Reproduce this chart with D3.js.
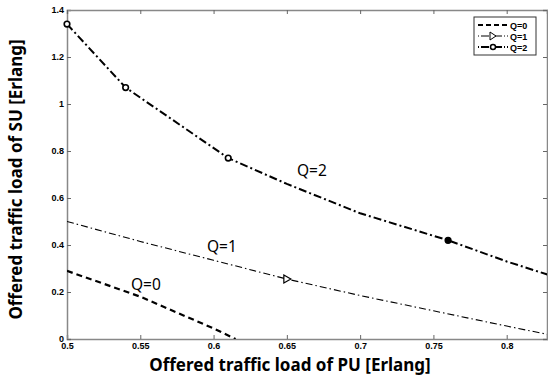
<!DOCTYPE html>
<html>
<head>
<meta charset="utf-8">
<script src="https://cdn.jsdelivr.net/npm/d3@7"></script>
<style>
  body { margin: 0; background: #fff; }
  .tick text { font-family: "Liberation Sans", Arial, sans-serif; font-weight: bold; font-size: 9px; }
  .title { font-family: "Noto Sans", "DejaVu Sans", sans-serif; font-weight: bold; font-size: 17px; }
  .qlabel { font-family: "Noto Sans", "DejaVu Sans", sans-serif; font-size: 15.5px; }
</style>
</head>
<body>
<div id="chart"></div>
<script>
// series
var q0_x = [0.5, 0.55, 0.6, 0.615];
var q0_y = [0.29, 0.18, 0.045, 0.0];
var q1_x = [0.5, 0.55, 0.6, 0.65, 0.7, 0.75, 0.8, 0.83];
var q1_y = [0.5, 0.415, 0.335, 0.255, 0.185, 0.12, 0.055, 0.017];
var q2_x = [0.5, 0.54, 0.61, 0.65, 0.7, 0.76, 0.8, 0.83];
var q2_y = [1.34, 1.07, 0.77, 0.66, 0.535, 0.42, 0.33, 0.27];
var q1_mark = [0.65];
var q2_mark = [0.5, 0.54, 0.61, 0.76];
var x_ticks = [0.5, 0.55, 0.6, 0.65, 0.7, 0.75, 0.8];
var y_ticks = [0, 0.2, 0.4, 0.6, 0.8, 1, 1.2, 1.4];
var legend_names = ["Q=0", "Q=1", "Q=2"];

var width = 548, height = 381;
var m = { left: 67, right: 547, top: 10, bottom: 339 };

var svg = d3.select("#chart").append("svg")
    .attr("width", width)
    .attr("height", height);

var x = d3.scaleLinear().domain([0.5, 0.8275]).range([m.left, m.right]);
var y = d3.scaleLinear().domain([0, 1.4]).range([m.bottom, m.top]);

svg.append("clipPath").attr("id", "clip")
  .append("rect").attr("x", m.left).attr("y", m.top)
    .attr("width", m.right - m.left).attr("height", m.bottom - m.top);

// axes, ticks pointing inwards
svg.append("g").attr("transform", "translate(0," + m.bottom + ")")
    .call(d3.axisBottom(x).tickValues(x_ticks).tickSize(-4).tickPadding(4)
        .tickFormat(d3.format("")));
svg.append("g").attr("transform", "translate(" + m.left + ",0)")
    .call(d3.axisLeft(y).tickValues(y_ticks).tickSize(-4).tickPadding(3)
        .tickFormat(d3.format("")));
svg.append("g").attr("transform", "translate(0," + m.top + ")")
    .call(d3.axisTop(x).tickValues(x_ticks).tickSize(-4).tickFormat(""));
svg.append("g").attr("transform", "translate(" + m.right + ",0)")
    .call(d3.axisRight(y).tickValues(y_ticks).tickSize(-4).tickFormat(""));

svg.selectAll(".domain").attr("stroke", "#888").attr("stroke-width", 1.5);
svg.selectAll(".tick line").attr("stroke", "#666");

var line = d3.line()
    .x(function(d) { return x(d[0]); })
    .y(function(d) { return y(d[1]); });

var plot = svg.append("g").attr("clip-path", "url(#clip)");

plot.append("path")
    .attr("d", line(d3.zip(q0_x, q0_y)))
    .attr("fill", "none").attr("stroke", "#000")
    .attr("stroke-width", 2.2).attr("stroke-dasharray", "6,4");

plot.append("path")
    .attr("d", line(d3.zip(q1_x, q1_y)))
    .attr("fill", "none").attr("stroke", "#000")
    .attr("stroke-width", 1.1).attr("stroke-dasharray", "7,3,1.5,3");

plot.append("path")
    .attr("d", line(d3.zip(q2_x, q2_y)))
    .attr("fill", "none").attr("stroke", "#000")
    .attr("stroke-width", 2).attr("stroke-dasharray", "8,3,2,3");

// markers
var interp1 = d3.scaleLinear().domain(q1_x).range(q1_y);
var interp2 = d3.scaleLinear().domain(q2_x).range(q2_y);

svg.selectAll(".tri").data(q1_mark).enter().append("path")
    .attr("d", "M-3,-4L4,0L-3,4Z")
    .attr("transform", function(d) { return "translate(" + x(d) + "," + y(interp1(d)) + ")"; })
    .attr("fill", "#fff").attr("stroke", "#000").attr("stroke-width", 1.2);

svg.selectAll(".circ").data(q2_mark).enter().append("circle")
    .attr("cx", function(d) { return x(d); })
    .attr("cy", function(d) { return y(interp2(d)); })
    .attr("r", 2.8)
    .attr("fill", function(d, i) { return i == 3 ? "#000" : "#fff"; })
    .attr("stroke", "#000").attr("stroke-width", 1.6);

// curve labels
svg.append("text").attr("class", "qlabel").attr("x", 297).attr("y", 176).text("Q=2");
svg.append("text").attr("class", "qlabel").attr("x", 207).attr("y", 252).text("Q=1");
svg.append("text").attr("class", "qlabel").attr("x", 131).attr("y", 290).text("Q=0");

// axis titles
svg.append("text").attr("class", "title")
    .attr("text-anchor", "middle")
    .attr("x", 290).attr("y", 371)
    .text("Offered traffic load of PU [Erlang]");
svg.append("text").attr("class", "title")
    .attr("text-anchor", "middle")
    .attr("transform", "translate(22," + ((m.top + m.bottom) / 2 + 5) + ") rotate(-90)")
    .text("Offered traffic load of SU [Erlang]");

// legend
var lg = svg.append("g").attr("transform", "translate(474,17)");
lg.append("rect").attr("width", 62).attr("height", 38)
    .attr("fill", "#fff").attr("stroke", "#333").attr("stroke-width", 1);
var styles = [
  { w: 2, dash: "5,3" },
  { w: 1, dash: "1,2,8,2" },
  { w: 1.8, dash: "1,2,8,2" }
];
var rows = lg.selectAll(".row").data(legend_names).enter().append("g")
    .attr("transform", function(d, i) { return "translate(0," + (8 + i * 11) + ")"; });
rows.append("line")
    .attr("x1", 4).attr("x2", 34).attr("y1", 0).attr("y2", 0)
    .attr("stroke", "#000")
    .attr("stroke-width", function(d, i) { return styles[i].w; })
    .attr("stroke-dasharray", function(d, i) { return styles[i].dash; });
rows.append("text")
    .attr("x", 36).attr("y", 3.5)
    .attr("font-family", "Liberation Sans, Arial, sans-serif")
    .attr("font-weight", "bold").attr("font-size", 9)
    .text(function(d) { return d; });
lg.append("path").attr("d", "M16,15L22,19L16,23Z")
    .attr("fill", "#fff").attr("stroke", "#000").attr("stroke-width", 1);
lg.append("circle").attr("cx", 19).attr("cy", 30).attr("r", 2.5)
    .attr("fill", "#fff").attr("stroke", "#000").attr("stroke-width", 1.5);
</script>
</body>
</html>
